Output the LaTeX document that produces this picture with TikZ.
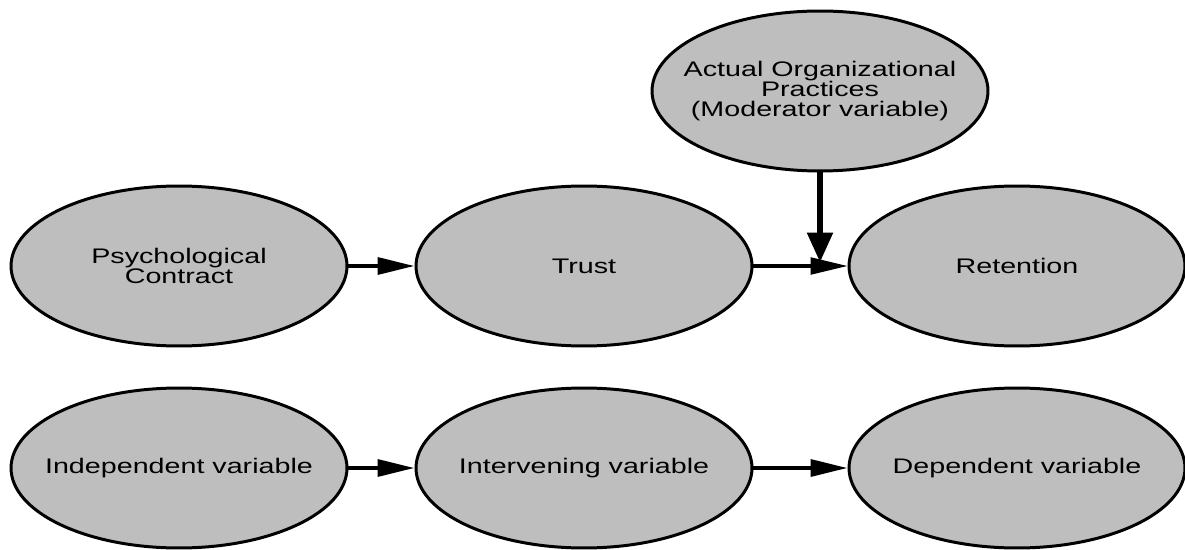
\documentclass[tikz,border=0pt]{standalone}
\usepackage{fontspec}
\setmainfont{Liberation Sans}
\usepackage{graphicx}
\usetikzlibrary{shapes.geometric,arrows.meta}
\newcommand{\wide}[1]{\scalebox{1.36}[1]{#1}}
\tikzstyle{link} = [line width=2.3pt,-{Triangle[length=21pt,width=9.5pt]}]

\begin{document}
\begin{tikzpicture}
		[x=0.02cm,y=-0.02cm,
		var/.style={
		draw,
		ellipse,
		line width=1.7pt,
		fill={rgb,255:red,190;green,190;blue,190},
		minimum width=6.72cm,
		minimum height=3.2cm,
		inner xsep=-2cm,
		inner ysep=0pt,
		align=center,
		font=\fontsize{12pt}{11.6pt}\selectfont}
		]
		\useasboundingbox (0,0) rectangle (1185,550);
		\node[var](mod) at (820,91) {\wide{Actual Organizational}\\ \wide{Practices}\\ \wide{(Moderator variable)}};
		\node[var](psych) at (179,266) {\wide{Psychological}\\ \wide{Contract}};
		\node[var](trust) at (584,266) {\wide{Trust}};
		\node[var](ret) at (1017,266) {\wide{Retention}};
		\node[var](indep) at (179,468) {\wide{Independent variable}};
		\node[var](interv) at (584,468) {\wide{Intervening variable}};
		\node[var](dep) at (1017,468) {\wide{Dependent variable}};
		\coordinate (meet) at (mod.south |- trust.east);
		\draw[link] (psych) -- (trust);
		\draw[link,line width=1.8pt] (trust) -- (ret);
		\draw[line width=3.6pt,-{Triangle[length=17pt,width=14pt]},shorten >=2pt] (mod) -- (meet);
		\draw[link] (indep) -- (interv);
		\draw[link] (interv) -- (dep);
		\end{tikzpicture}
\end{document}
